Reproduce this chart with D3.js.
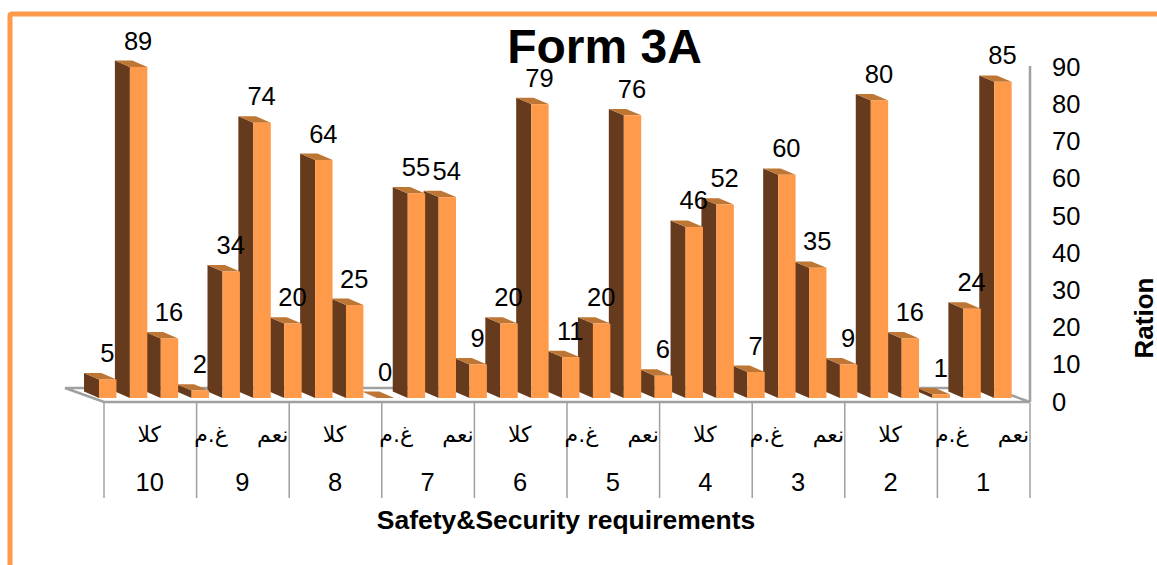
<!DOCTYPE html>
<html>
<head>
<meta charset="utf-8">
<script src="https://cdn.jsdelivr.net/npm/d3@7/dist/d3.min.js"></script>
<style>
html, body { margin: 0; padding: 0; background: #fff; overflow: hidden; }
text { font-family: "Liberation Sans", Arial, sans-serif; fill: #000; }
</style>
</head>
<body>
<svg id="chart" width="1157" height="565"></svg>
<script>
// Values per bar, left to right (three responses for each requirement, 10 down to 1)
const values = [5, 89, 16, 2, 34, 74, 20, 64, 25, 0, 55, 54, 9, 20, 79, 11, 20, 76, 6, 46, 52, 7, 60, 35, 9, 80, 16, 1, 24, 85];
const groups = ["10", "9", "8", "7", "6", "5", "4", "3", "2", "1"];
const responses = ["كلا", "غ.م", "نعم"];
const yTicks = [0, 10, 20, 30, 40, 50, 60, 70, 80, 90];

const colors = { front: "#FF9A4A", side: "#663A1C", top: "#BE7635", grid: "#A0A0A0", frame: "#FF9A4A" };
const depth = { dx: -15, dy: -6.4 };
const svg = d3.select("#chart");

// Outer frame, open on the right and bottom edges
svg.append("path")
  .attr("d", "M10 575V16Q10 14 12 14H1170")
  .attr("fill", "none").attr("stroke", colors.frame).attr("stroke-width", 5);

const keys = d3.range(values.length);
const x = d3.scaleBand().domain(keys).range([92.3, 1018.4]).paddingInner(0.436).paddingOuter(0.218);
const y = d3.scaleLinear().domain([0, 90]).range([398, 63.2]);
// Category axis sits on the front edge of the floor
const xAxisScale = d3.scaleBand().domain(keys).range([104, 1030]);

// Floor and back edge
svg.append("path")
  .attr("d", "M991 388H65L104 402H1030L991 388")
  .attr("fill", "none").attr("stroke", colors.grid).attr("stroke-width", 2.5);
svg.append("line")
  .attr("x1", 1030).attr("x2", 1030).attr("y1", 66).attr("y2", 402)
  .attr("stroke", colors.grid).attr("stroke-width", 2.5);

// Extruded bars, painted right to left so nearer faces overlap
const bars = svg.append("g").selectAll("g")
  .data(keys.slice().reverse())
  .join("g");

const poly = pts => pts.map(p => p.join(",")).join(" ");
bars.append("polygon")
  .attr("fill", colors.side)
  .attr("points", i => {
    const l = x(i), t = y(values[i]), b = y(0);
    return poly([[l, t], [l + depth.dx, t + depth.dy], [l + depth.dx, b + depth.dy], [l, b]]);
  });
bars.append("polygon")
  .attr("fill", colors.top)
  .attr("points", i => {
    const l = x(i), r = l + x.bandwidth(), t = y(values[i]);
    return poly([[l, t], [r, t], [r + depth.dx, t + depth.dy], [l + depth.dx, t + depth.dy]]);
  });
bars.append("rect")
  .attr("fill", colors.front)
  .attr("x", i => x(i))
  .attr("y", i => y(values[i]))
  .attr("width", x.bandwidth())
  .attr("height", i => y(0) - y(values[i]));

// Value labels above each bar
svg.append("g").selectAll("text")
  .data(keys)
  .join("text")
  .attr("x", i => x(i) + x.bandwidth() / 2 - 0.5)
  .attr("y", i => y(values[i]) + depth.dy - 11)
  .attr("text-anchor", "middle")
  .attr("font-size", 25.5)
  .text(i => values[i]);

// Value axis on the right
const yAxis = svg.append("g")
  .attr("transform", "translate(1036,4)")
  .call(d3.axisRight(y).tickValues(yTicks).tickSize(0).tickPadding(16));
yAxis.select(".domain").remove();
yAxis.selectAll("text").attr("font-size", 25.5).style("font-family", '"Liberation Sans", Arial, sans-serif');

// Separators between requirement groups
const groupStep = xAxisScale.step() * 3;
svg.append("g").selectAll("line")
  .data(d3.range(groups.length + 1))
  .join("line")
  .attr("x1", i => 104 + i * groupStep).attr("x2", i => 104 + i * groupStep)
  .attr("y1", 403).attr("y2", 498)
  .attr("stroke", colors.grid).attr("stroke-width", 1.5);

// Response labels on every second bar position
svg.append("g").selectAll("text")
  .data(keys.filter(i => i % 2 === 1))
  .join("text")
  .attr("x", i => xAxisScale(i) + xAxisScale.bandwidth() / 2 - 1)
  .attr("y", 442)
  .attr("text-anchor", "middle")
  .attr("font-size", 22)
  .style("font-family", '"DejaVu Sans", sans-serif')
  .text(i => responses[((i - 1) / 2) % 3]);

// Requirement numbers
svg.append("g").selectAll("text")
  .data(groups)
  .join("text")
  .attr("x", (d, i) => 104 + (i + 0.5) * groupStep - 0.5)
  .attr("y", 490.5)
  .attr("text-anchor", "middle")
  .attr("font-size", 25.5)
  .text(d => d);

// Titles
svg.append("text")
  .attr("x", 604.5).attr("y", 63)
  .attr("text-anchor", "middle")
  .attr("font-size", 48).attr("font-weight", "bold")
  .text("Form 3A");
svg.append("text")
  .attr("x", 566).attr("y", 529)
  .attr("text-anchor", "middle")
  .attr("font-size", 26.5).attr("font-weight", "bold")
  .text("Safety&Security requirements");
svg.append("text")
  .attr("transform", "translate(1153,318) rotate(-90)")
  .attr("text-anchor", "middle")
  .attr("font-size", 26).attr("font-weight", "bold")
  .text("Ration");
</script>
</body>
</html>
